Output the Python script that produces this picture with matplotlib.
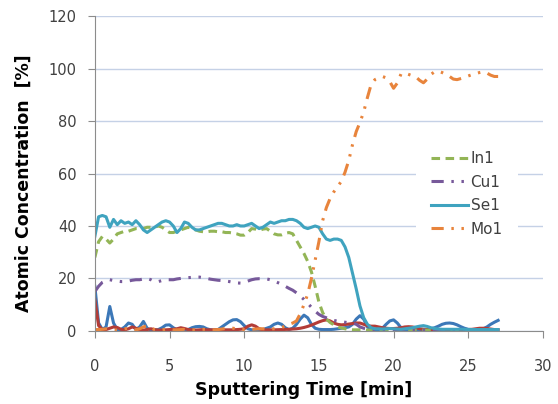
import numpy as np
import matplotlib
matplotlib.use("Agg")
import matplotlib.pyplot as plt

# sputtering time, one reading every 0.25 min
time_min = np.arange(0, 27.01, 0.25)

se1 = [36, 43.5, 44, 43.5, 39.5, 42.5, 40.5, 42, 41, 41.5, 40.5, 42, 40.5, 38.5, 37.5, 38.5,
       39.5, 40.5, 41.5, 42, 41.5, 40, 37.5, 39, 41.5, 41, 39.5, 38.5, 38.5, 39, 39.5, 40,
       40.5, 41, 41, 40.5, 40, 40, 40.5, 40, 40, 40.5, 41, 40, 39, 39.5, 40.5, 41.5,
       41, 41.5, 42, 42, 42.5, 42.5, 42, 41, 39.5, 39, 39.5, 40, 39.5, 37, 35, 34.5,
       35, 35, 34.5, 32, 28, 22, 16, 9.5, 5, 2.5, 1.2, 0.8, 0.8, 0.7, 0.8, 0.9,
       0.8, 0.7, 0.6, 0.8, 1.0, 1.2, 1.5, 1.8, 2.0, 1.7, 1.2, 0.9, 0.7, 0.6, 0.6, 0.6,
       0.6, 0.6, 0.6, 0.6, 0.5, 0.5, 0.5, 0.5, 0.5, 0.5, 0.5, 0.5, 0.5]

in1 = [28, 34, 36, 35, 33.5, 35, 37, 37.5, 38, 38, 38.5, 39, 39, 39, 39.5, 39.5,
       39.5, 40, 39.5, 38.5, 37.5, 37.5, 38, 38.5, 39, 39.5, 39, 38.5, 38, 37.8, 37.8, 38,
       38, 37.8, 37.8, 37.5, 37.5, 37.3, 37, 36.5, 36.5, 37.5, 39, 38.8, 38.3, 38.8, 39, 38,
       37, 36.6, 36.6, 37.2, 37.5, 37, 34.5, 32, 29.5, 26.5, 22.5, 17, 11, 7, 4.5, 3.2,
       2.3, 1.6, 1.1, 0.8, 0.5, 0.4, 0.4, 0.4, 0.4, 0.3, 0.3, 0.3, 0.3, 0.3, 0.3, 0.3,
       0.3, 0.3, 0.3, 0.3, 0.3, 0.3, 0.3, 0.3, 0.3, 0.3, 0.3, 0.3, 0.3, 0.3, 0.3, 0.3,
       0.3, 0.3, 0.3, 0.3, 0.3, 0.3, 0.3, 0.3, 0.3, 0.3, 0.3, 0.3, 0.3]

cu1 = [15, 17, 18.5, 19.2, 19.5, 19.2, 19, 18.8, 18.8, 19, 19.3, 19.5, 19.5, 19.8, 20, 19.5,
       18.8, 18.8, 19.2, 19.5, 19.5, 19.5, 19.8, 20, 20.2, 20.3, 20.4, 20.5, 20.5, 20.3, 20, 19.7,
       19.5, 19.3, 19.2, 19, 18.8, 18.5, 18.3, 18.2, 18.5, 19, 19.5, 19.8, 19.9, 19.9, 19.8, 19.5,
       19, 18.4, 17.8, 17, 16.2, 15.5, 14.5, 13.2, 12, 10.5, 9, 7.5, 6.3, 5.5, 5, 4.5,
       4, 3.7, 3.5, 3.3, 3.1, 3, 2.5, 1.5, 1, 0.7, 0.5, 0.4, 0.4, 0.4, 0.4, 0.4,
       0.4, 0.3, 0.3, 0.3, 0.3, 0.3, 0.3, 0.3, 0.3, 0.3, 0.3, 0.3, 0.3, 0.3, 0.3, 0.3,
       0.3, 0.3, 0.3, 0.3, 0.3, 0.3, 0.3, 0.3, 0.3, 0.3, 0.3, 0.3, 0.3]

mo1 = [0.5, 0.5, 0.6, 0.8, 0.6, 0.4, 0.3, 0.5, 0.8, 1.0, 0.6, 0.4, 0.8, 1.5, 2.0, 1.2,
       0.5, 0.3, 0.4, 0.6, 0.5, 0.4, 0.4, 0.5, 0.6, 0.5, 0.4, 0.4, 0.5, 0.6, 0.5, 0.4,
       0.4, 0.5, 0.7, 0.9, 1.1, 1.0, 0.8, 0.6, 0.5, 0.5, 0.6, 0.7, 0.8, 0.8, 0.7, 0.8,
       0.8, 1.0, 1.3, 1.8, 2.5, 3.0, 3.8, 6.5, 10, 14, 20, 27, 34, 42, 47, 50.5,
       53, 55, 57, 60.5, 65, 71, 76, 79.5, 83.5, 89, 94, 95.8, 96.5, 97, 96.5, 95,
       92.5, 94.5, 98, 98.3, 97.8, 97.3, 96.8, 95.5, 94.6, 96, 97.8, 98.8, 99, 98.5, 97.8, 97,
       96, 95.8, 96.2, 96.6, 97.2, 97.7, 98.1, 98.5, 98.8, 98.3, 97.5, 97, 97]

# two more traces in the file that have no legend entry
blue_trace = [17, 3, 0.5, 1.5, 9.3, 3, 0.5, 0.5, 1.5, 3, 2.5, 0.5, 1.5, 3.6, 1, 0.3,
              0.3, 0.5, 1.2, 2.2, 2.3, 1.2, 0.4, 0.3, 0.3, 0.5, 1.2, 1.6, 1.7, 1.5, 0.8, 0.4,
              0.3, 0.5, 1.5, 2.5, 3.5, 4.2, 4.3, 3.5, 2, 0.8, 0.4, 0.3, 0.3, 0.5, 1, 1.5,
              2.5, 3, 2.5, 1.2, 0.5, 1, 2.5, 4.5, 6, 5, 2.5, 1, 0.6, 0.5, 0.5, 0.5,
              0.6, 0.8, 1, 1.2, 1.5, 2.5, 4.5, 5.8, 4.5, 1.5, 0.5, 0.3, 0.5, 1, 2.5, 3.8,
              4.2, 3, 1.2, 0.4, 0.3, 0.3, 0.4, 0.5, 0.6, 0.6, 0.8, 1.2, 1.8, 2.5, 2.9, 3.0,
              2.8, 2.3, 1.6, 1, 0.6, 0.5, 0.5, 0.6, 0.8, 1.5, 2.5, 3.3, 4]

red_trace = [12, 2, 0.5, 0.5, 1.0, 1.5, 1.3, 0.6, 0.4, 0.8, 1.5, 1.0, 0.4, 0.3, 0.5, 0.8,
             0.5, 0.3, 0.3, 0.4, 0.5, 0.6, 0.8, 1.2, 0.9, 0.5, 0.4, 0.3, 0.4, 0.5, 0.4, 0.4,
             0.4, 0.4, 0.4, 0.4, 0.4, 0.4, 0.5, 0.6, 0.8, 1.8, 2.3, 1.8, 0.8, 0.4, 0.4, 0.4,
             0.4, 0.45, 0.5, 0.55, 0.6, 0.7, 0.8, 1.0, 1.3, 1.7, 2.2, 2.8, 3.4, 3.9, 4.2, 3.8,
             3.0, 2.5, 2.3, 2.4, 2.6, 2.8, 3.0, 3.0, 2.5, 2, 1.8, 1.8, 1.5, 1.2, 1, 0.9,
             0.9, 1, 1.2, 1.5, 1.6, 1.5, 1.2, 0.8, 0.6, 0.5, 0.5, 0.5, 0.5, 0.5, 0.5, 0.5,
             0.5, 0.5, 0.5, 0.5, 0.5, 0.6, 0.8, 1.0, 1.0, 0.9, 0.7, 0.5, 0.4]

c_se = '#3FA3BF'
c_in = '#93B556'
c_cu = '#77599A'
c_mo = '#E8843C'
c_blue = '#3C78B8'
c_red = '#B33C37'

fig = plt.figure(figsize=(5.58, 4.04), dpi=100)
ax = fig.add_axes([0.170, 0.181, 0.803, 0.779])

dashdotdot = (0, (4, 2.5, 0.8, 2.5, 0.8, 2.5))

ax.plot(time_min, blue_trace, color=c_blue, lw=2.2, solid_joinstyle='round')
ax.plot(time_min, red_trace, color=c_red, lw=2.2, solid_joinstyle='round')
ax.plot(time_min, in1, color=c_in, lw=2.2, ls=(0, (2.8, 1.8)), label='In1')
ax.plot(time_min, cu1, color=c_cu, lw=2.2, ls=dashdotdot, label='Cu1')
ax.plot(time_min, se1, color=c_se, lw=2.2, solid_joinstyle='round', label='Se1')
ax.plot(time_min, mo1, color=c_mo, lw=2.2, ls=dashdotdot, label='Mo1')

ax.set_xlim(0, 30)
ax.set_ylim(0, 120)
ax.set_xticks([0, 5, 10, 15, 20, 25, 30])
ax.set_yticks([0, 20, 40, 60, 80, 100, 120])
ax.grid(axis='y', color='#C5D1E6', lw=1)
ax.set_axisbelow(True)

for s in ['top', 'right']:
    ax.spines[s].set_visible(False)
for s in ['left', 'bottom']:
    ax.spines[s].set_color('#8C8C8C')
ax.tick_params(axis='both', colors='#8C8C8C', labelcolor='#404040', labelsize=10.5,
               length=5, direction='out')
ax.tick_params(axis='y', pad=8)
ax.tick_params(axis='x', pad=15)

ax.set_xlabel('Sputtering Time [min]', fontsize=12.5, fontweight='bold')
ax.set_ylabel('Atomic Concentration  [%]', fontsize=12.5, fontweight='bold')
ax.xaxis.set_label_coords(0.467, -0.16)
ax.yaxis.set_label_coords(-0.138, 0.47)

leg = ax.legend(loc='center', bbox_to_anchor=(0.83, 0.435), frameon=True, fontsize=11,
                handlelength=2.4, handletextpad=0.2, labelspacing=0.55,
                borderpad=1.0, labelcolor='#404040')
leg.get_frame().set_facecolor('white')
leg.get_frame().set_edgecolor('none')
leg.get_frame().set_alpha(1)

fig.savefig('out.png', dpi=100)
